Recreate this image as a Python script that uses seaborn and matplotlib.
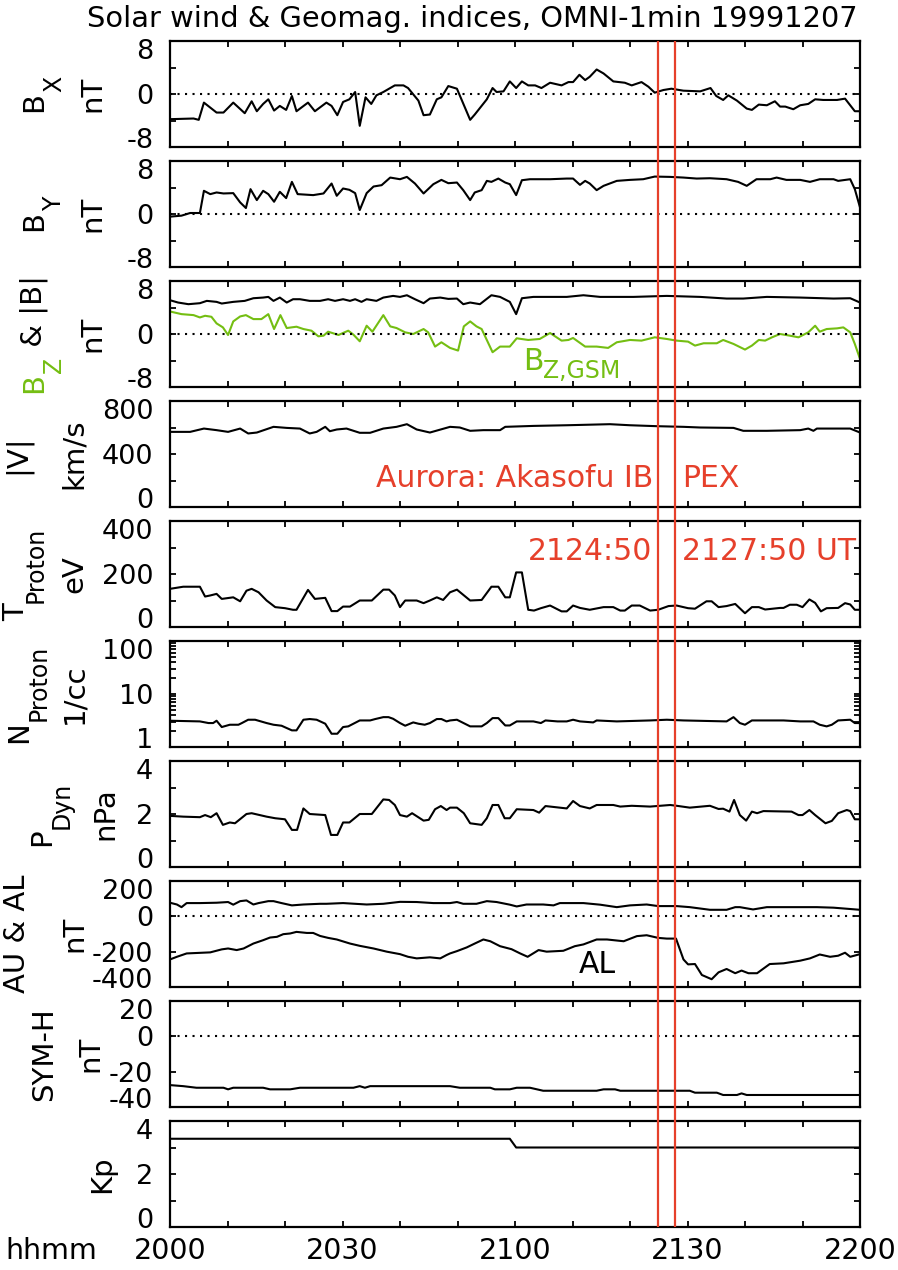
import numpy as np
import pandas as pd
import seaborn as sns
import matplotlib.pyplot as plt
from matplotlib.ticker import NullFormatter
from matplotlib.transforms import ScaledTranslation

sns.set_style('ticks')
plt.rcParams['font.family'] = ['DejaVu Sans']
plt.rcParams['text.color'] = 'black'
plt.rcParams['axes.unicode_minus'] = False

# ---- data (minutes after 20:00 UT) ----
bx_t = [0, 4.1, 5.0, 5.9, 8.1, 9.3, 11.0, 13.0, 14.2, 15.1, 16.2, 17.1, 18.1, 19.1, 20.2, 21.2, 22.0, 24.0, 25.2, 27.2,
        28.1, 29.1, 30.1, 31.2, 32.2, 33.0, 34.0, 35.0, 35.9, 37.1, 39.1, 40.6, 41.4, 43.2, 44.1, 45.2, 46.4, 47.2, 48.4, 49.9,
        52.2, 53.0, 55.1, 56.1, 56.8, 58.0, 59.1, 60.2, 61.2, 62.3, 63.5, 64.6, 66.1, 68.1, 69.3, 70.1, 71.2, 72.2, 73.0, 74.2,
        75.4, 77.1, 79.1, 80.3, 82.0, 83.2, 84.3, 85.8, 87.2, 89.3, 92.2, 94.0, 95.0, 96.2, 97.1, 98.6, 100.3, 101.2, 102.4, 103.8,
        105.2, 106.1, 107.0, 108.4, 109.6, 111.0, 112.2, 113.6, 116.0, 117.4, 119.1, 120]
bx_v = [-3.8, -3.7, -3.9, -1.3, -2.8, -2.8, -1.3, -2.9, -1.1, -2.6, -1.5, -0.8, -2.5, -1.8, -2.4, -0.3, -2.6, -1.3, -2.6, -1.3,
        -1.8, -3.2, -1.2, -0.8, 0.3, -4.8, -0.5, -1.5, -0.2, 0.3, 1.3, 1.3, 0.9, -1.0, -3.2, -3.1, -0.8, -0.5, 1.2, 0.8,
        -3.9, -3.1, -0.8, 0.9, 0.3, 0.4, 1.9, 0.9, 1.9, 1.3, 1.3, 0.9, 1.7, 1.3, 1.8, 1.8, 2.9, 2.1, 2.6, 3.7,
        3.1, 1.9, 1.7, 1.3, 1.8, 1.1, 0.2, 0.6, 0.8, 0.5, 0.4, 0.9, -0.3, -0.9, -0.2, -1.0, -2.2, -2.4, -1.6, -1.7,
        -1.1, -1.9, -1.9, -2.3, -1.7, -1.5, -0.8, -0.9, -0.9, -0.7, -2.6, -2.6]

by_t = [0, 2.0, 3.5, 5.2, 5.9, 7.0, 8.1, 9.3, 11.0, 12.2, 13.2, 14.0, 15.1, 16.2, 17.1, 18.1, 19.1, 20.2, 21.2, 22.2,
        24.9, 26.7, 28.1, 29.0, 30.1, 31.2, 32.2, 33.0, 34.2, 35.4, 36.8, 38.3, 40.0, 41.2, 42.6, 44.1, 45.8, 47.2, 48.4, 49.9,
        51.0, 52.2, 53.0, 54.2, 55.1, 55.9, 57.1, 58.3, 59.1, 60.2, 61.2, 62.6, 66.1, 69.0, 70.1, 71.3, 72.2, 73.0, 74.2, 75.4,
        77.7, 80.0, 82.3, 84.3, 87.0, 89.3, 91.6, 93.9, 96.8, 98.8, 100.3, 102.0, 104.4, 105.5, 107.2, 109.6, 111.3, 113.0, 115.4, 116.2,
        118.3, 119.1, 120]
by_v = [-0.4, -0.25, 0.15, 0.15, 3.5, 3.0, 3.25, 3.1, 3.15, 1.75, 0.9, 3.75, 2.1, 3.5, 3.0, 1.85, 3.35, 2.4, 4.85, 3.0,
        2.85, 3.1, 4.6, 2.75, 3.85, 3.65, 3.15, 0.6, 3.15, 4.15, 4.35, 5.5, 5.25, 5.6, 4.6, 3.1, 4.5, 5.15, 4.65, 4.75,
        3.6, 2.1, 3.25, 3.6, 5.0, 4.85, 5.35, 4.75, 4.5, 2.85, 5.1, 5.25, 5.25, 5.35, 5.35, 4.4, 5.0, 4.6, 3.6, 4.25,
        5.0, 5.15, 5.25, 5.65, 5.6, 5.5, 5.35, 5.4, 5.25, 4.85, 4.25, 5.25, 5.25, 5.5, 5.15, 5.15, 4.85, 5.25, 5.25, 5.0,
        5.25, 3.75, 1.0]

bt_t = [0, 1.4, 3.2, 5.2, 6.4, 8.1, 9.0, 11.0, 13.0, 14.5, 16.2, 17.1, 18.0, 19.1, 20.3, 21.4, 22.6, 24.3, 26.1, 27.5,
        28.7, 30.1, 31.3, 32.2, 33.3, 34.2, 35.9, 37.1, 38.8, 40.0, 41.2, 42.6, 44.1, 45.2, 47.0, 48.4, 49.9, 51.0, 52.2, 53.9,
        55.9, 57.4, 59.1, 60.2, 61.2, 63.2, 69.0, 71.9, 74.8, 80.6, 86.4, 92.2, 96.8, 99.7, 103.8, 109.6, 115.4, 118.3, 120]
bt_v = [5.1, 4.75, 4.5, 4.65, 5.0, 4.85, 4.6, 4.85, 5.0, 5.4, 5.5, 5.6, 5.0, 5.5, 4.75, 5.25, 5.25, 5.0, 5.0, 5.25,
        5.0, 5.25, 5.0, 5.25, 4.85, 5.25, 5.0, 5.5, 5.75, 5.6, 5.85, 5.25, 4.65, 5.35, 5.5, 5.3, 5.35, 4.5, 4.75, 4.5,
        5.85, 5.6, 4.85, 3.0, 5.4, 5.6, 5.6, 5.85, 5.6, 5.6, 5.75, 5.6, 5.35, 5.35, 5.6, 5.5, 5.35, 5.4, 4.75]

bz_t = [0, 2.0, 4.1, 5.2, 6.1, 7.2, 8.1, 9.2, 10.1, 11.0, 12.2, 13.2, 14.5, 15.9, 17.1, 18.1, 19.2, 20.3, 22.0, 23.2,
        24.6, 25.8, 26.7, 27.5, 29.3, 31.0, 31.9, 33.0, 34.2, 35.2, 37.1, 38.3, 39.4, 40.9, 42.3, 44.1, 44.9, 46.1, 47.2, 48.7,
        50.1, 51.1, 52.2, 53.3, 54.2, 56.1, 57.4, 59.1, 60.3, 62.3, 64.3, 66.1, 68.1, 69.3, 70.1, 72.2, 74.2, 76.2, 77.7, 80.0,
        82.0, 84.3, 86.4, 88.1, 90.1, 91.3, 92.8, 95.1, 96.2, 98.0, 100.0, 101.2, 102.4, 103.5, 104.7, 106.1, 107.8, 109.3, 111.0, 112.2,
        113.0, 114.2, 116.0, 117.1, 118.3, 119.1, 120]
bz_v = [3.4, 3.0, 2.85, 2.5, 2.75, 2.6, 1.6, 1.0, -0.15, 1.9, 2.65, 2.85, 2.25, 2.25, 3.0, 0.75, 2.85, 0.9, 1.1, 0.75,
        0.5, -0.35, -0.25, 0.35, -0.15, 0.5, -0.1, -1.1, 1.25, 0.35, 2.85, 1.15, 0.9, 0.25, 0.0, 0.75, 0.25, -1.9, -1.25, -2.1,
        -2.5, 1.15, 1.9, 1.15, 0.75, -2.75, -1.9, -1.9, -0.65, -0.9, -0.75, 0.15, -1.0, -0.9, -0.6, -1.9, -1.9, -2.1, -1.25, -0.9,
        -1.0, -0.5, -0.75, -1.0, -1.15, -1.75, -1.4, -1.4, -0.9, -1.5, -2.35, -1.75, -0.9, -1.0, -0.5, 0.0, -0.25, -0.5, 0.25, 1.25,
        0.35, 0.75, 0.85, 1.0, 0.25, -1.5, -3.75]

v_t = [0, 3.5, 5.9, 8.1, 10.1, 12.2, 13.6, 15.1, 18.0, 20.3, 22.6, 24.3, 25.5, 27.0, 27.8, 29.0, 30.7, 33.0, 34.8, 37.1,
       39.4, 41.2, 42.9, 45.2, 48.7, 50.4, 52.2, 54.5, 57.4, 58.3, 63.2, 69.0, 76.5, 80.0, 84.6, 89.3, 92.2, 98.0, 99.7, 103.8,
       109.6, 111.0, 111.9, 112.5, 115.4, 118.3, 120]
v_v = [567, 567, 592, 580, 567, 592, 555, 562, 605, 597, 592, 555, 567, 605, 572, 585, 592, 560, 560, 592,
       605, 625, 585, 562, 605, 600, 575, 580, 580, 605, 612, 617, 625, 617, 610, 605, 600, 597, 575, 575,
       580, 592, 575, 592, 592, 592, 562]

tp_t = [0, 2.3, 5.2, 6.1, 7.0, 8.1, 9.0, 11.0, 12.2, 13.3, 14.2, 15.4, 16.8, 18.3, 20.0, 21.4, 22.0, 24.0, 25.2, 27.0,
        28.1, 29.1, 30.1, 31.3, 33.0, 35.1, 37.1, 38.1, 39.1, 40.0, 40.9, 42.9, 44.1, 45.2, 46.4, 47.5, 48.7, 49.9, 52.2, 54.2,
        55.9, 57.1, 58.3, 59.1, 60.2, 61.2, 62.3, 63.3, 64.5, 66.1, 68.1, 69.0, 70.1, 71.3, 73.0, 75.4, 77.1, 78.3, 79.1, 80.3,
        81.7, 83.5, 84.9, 86.7, 88.1, 90.1, 91.3, 93.3, 94.2, 95.4, 96.8, 98.3, 100.0, 101.2, 102.4, 103.5, 106.1, 106.7, 107.8, 109.0,
        110.0, 111.2, 112.2, 113.2, 114.2, 116.2, 117.4, 118.3, 119.1, 120]
tp_v = [144, 152, 152, 115, 119, 125, 106, 112, 97, 137, 144, 131, 100, 75, 71, 65, 65, 140, 106, 110,
        60, 60, 77, 77, 100, 100, 141, 141, 119, 75, 100, 100, 90, 100, 112, 102, 131, 141, 100, 102,
        152, 152, 112, 112, 206, 206, 65, 62, 71, 81, 59, 59, 81, 72, 65, 75, 75, 62, 62, 81,
        81, 62, 65, 79, 81, 71, 69, 97, 97, 75, 79, 87, 52, 75, 75, 66, 72, 72, 84, 84,
        75, 104, 91, 59, 71, 72, 90, 85, 65, 65]

np_t = [0, 5.2, 6.7, 7.5, 8.1, 9.0, 10.4, 11.9, 12.5, 13.6, 14.8, 16.8, 18.0, 19.4, 21.2, 22.0, 23.2, 24.3, 25.5, 27.0,
        28.1, 29.1, 30.1, 31.0, 33.0, 34.8, 35.7, 37.1, 38.0, 38.8, 40.0, 40.9, 42.3, 43.2, 44.3, 45.2, 46.4, 47.2, 48.1, 48.7,
        49.9, 52.2, 54.2, 55.1, 56.1, 57.1, 58.3, 59.1, 60.3, 63.2, 64.5, 65.3, 67.4, 69.0, 70.1, 71.3, 73.6, 74.2, 77.7, 83.5,
        86.4, 89.3, 96.8, 98.0, 99.1, 100.0, 101.2, 106.7, 109.6, 111.9, 113.0, 114.2, 115.1, 116.2, 118.3, 119.1, 120]
np_v = [3.13, 3.04, 2.83, 2.83, 3.13, 2.38, 2.63, 2.63, 2.83, 3.27, 3.27, 2.83, 2.63, 2.52, 2.06, 2.06, 3.27, 3.37, 3.27, 2.75,
        1.78, 1.78, 2.38, 2.45, 3.17, 3.17, 3.37, 3.66, 3.66, 3.41, 2.83, 2.52, 2.91, 2.75, 2.63, 2.83, 3.37, 3.37, 3.04, 3.17,
        3.27, 2.45, 2.45, 2.83, 3.51, 3.51, 2.55, 2.55, 3.04, 3.04, 2.83, 3.17, 3.04, 3.04, 3.27, 3.04, 2.91, 3.17, 3.04, 3.17,
        3.27, 3.17, 3.04, 3.66, 2.83, 2.63, 3.17, 3.17, 3.04, 3.04, 2.63, 2.45, 2.63, 3.17, 3.27, 2.83, 2.83]

pd_t = [0, 2.3, 5.2, 6.1, 7.1, 8.1, 9.2, 10.4, 11.3, 13.3, 14.2, 16.8, 18.3, 20.0, 21.2, 22.1, 23.2, 24.3, 27.0, 28.0,
        29.1, 30.1, 31.2, 33.0, 35.1, 37.1, 38.1, 39.1, 40.0, 41.2, 42.1, 44.1, 45.0, 46.1, 47.1, 48.1, 48.7, 49.9, 51.1, 52.2,
        54.2, 55.1, 56.1, 57.1, 58.2, 59.1, 60.3, 63.2, 64.2, 65.3, 69.0, 70.1, 71.3, 73.0, 74.2, 77.1, 78.3, 80.3, 83.5, 87.0,
        88.1, 90.4, 93.9, 95.4, 96.2, 97.3, 98.1, 99.1, 100.2, 101.2, 102.1, 103.2, 108.1, 109.3, 110.0, 111.2, 112.2, 114.0, 115.1, 116.2,
        117.7, 118.3, 119.1, 120]
pd_v = [1.93, 1.9, 1.88, 1.96, 1.88, 2.03, 1.59, 1.68, 1.65, 2.0, 2.03, 1.9, 1.84, 1.8, 1.4, 1.4, 2.21, 2.0, 1.96, 1.21,
        1.21, 1.68, 1.68, 2.0, 2.0, 2.55, 2.53, 2.34, 1.96, 1.9, 2.03, 1.75, 1.78, 2.18, 2.3, 2.15, 2.24, 2.24, 2.03, 1.65,
        1.59, 1.84, 2.34, 2.34, 1.84, 1.84, 2.18, 2.15, 2.05, 2.3, 2.21, 2.49, 2.3, 2.21, 2.34, 2.34, 2.28, 2.31, 2.28, 2.34,
        2.31, 2.24, 2.31, 2.19, 2.2, 2.09, 2.53, 1.96, 1.75, 2.09, 2.03, 2.11, 2.09, 1.96, 1.96, 2.15, 1.96, 1.65, 1.74, 2.03,
        2.15, 2.11, 1.8, 1.8]

au_t = [0, 1.2, 2.0, 2.9, 5.2, 8.1, 10.1, 11.0, 12.2, 13.3, 14.5, 15.4, 17.1, 18.0, 19.4, 21.2, 23.2, 26.1, 27.2, 30.1,
        34.2, 37.1, 40.0, 42.9, 45.8, 48.7, 49.9, 51.0, 53.3, 55.1, 56.8, 59.1, 60.3, 62.0, 64.9, 66.7, 67.8, 71.9, 74.8, 77.7,
        80.0, 82.9, 84.9, 88.1, 90.4, 93.9, 96.8, 98.3, 99.1, 101.4, 103.8, 106.7, 112.5, 115.4, 120]
au_v = [77, 67, 52, 75, 75, 77, 81, 66, 86, 90, 67, 75, 86, 86, 75, 62, 67, 71, 71, 75,
        67, 71, 82, 81, 75, 75, 81, 71, 71, 86, 81, 66, 56, 67, 67, 62, 75, 75, 66, 52,
        62, 67, 58, 58, 52, 37, 37, 52, 52, 39, 52, 52, 52, 49, 37]

al_t = [0, 1.2, 2.9, 7.0, 9.0, 10.1, 11.6, 12.8, 14.5, 16.2, 17.4, 18.6, 19.7, 20.9, 22.0, 23.8, 24.9, 26.1, 27.5, 29.0,
        31.3, 33.0, 35.4, 37.7, 40.0, 41.4, 42.9, 45.2, 47.0, 48.1, 48.7, 49.9, 51.6, 53.0, 54.5, 55.7, 57.4, 59.4, 60.9, 62.2,
        64.1, 65.5, 68.4, 70.4, 71.9, 74.2, 76.0, 78.9, 81.2, 82.9, 84.9, 86.4, 88.0, 89.3, 90.1, 91.3, 92.5, 94.2, 95.4, 96.8,
        98.3, 99.4, 100.6, 102.1, 104.3, 106.7, 109.6, 111.3, 113.0, 114.8, 116.2, 117.4, 118.3, 120]
al_v = [-244, -229, -210, -204, -187, -182, -191, -182, -154, -135, -120, -116, -101, -97, -88, -94, -94, -111, -122, -131,
        -154, -167, -182, -200, -214, -229, -238, -232, -238, -219, -210, -197, -176, -154, -131, -141, -169, -186, -210, -229,
        -191, -200, -195, -169, -159, -131, -131, -141, -112, -107, -122, -126, -126, -244, -272, -270, -332, -356, -317, -298,
        -322, -307, -322, -322, -270, -266, -251, -238, -216, -229, -223, -206, -229, -214]

sy_t = [0, 2.3, 4.6, 9.3, 10.1, 11.0, 16.2, 17.4, 20.9, 22.6, 31.9, 33.0, 33.9, 34.8, 48.7, 50.4, 55.7, 56.5, 59.1, 60.3,
        62.6, 64.9, 74.2, 75.4, 77.4, 78.3, 90.4, 91.3, 95.1, 96.2, 98.6, 99.4, 100.3, 120]
sy_v = [-27.6, -28.2, -29.1, -29.1, -30.0, -29.1, -29.1, -30.0, -30.0, -29.1, -29.1, -28.2, -29.1, -28.2, -28.2, -29.1, -29.1, -30.0, -30.0, -29.1,
        -29.1, -30.8, -30.8, -30.0, -30.0, -30.8, -30.8, -31.9, -31.9, -33.2, -33.2, -32.3, -33.2, -33.2]

kp_t = [0, 59.1, 60.2, 120]
kp_v = [3.33, 3.33, 3.0, 3.0]

# aurora event times (minutes after 20:00): 2124:50 and 2127:50
aurora_min = [84 + 50 / 60, 87 + 50 / 60]

hhmm_min = [0, 30, 60, 90, 120]
hhmm_labels = ['2000', '2030', '2100', '2130', '2200']

b_ticks, b_labels = [-8, 0, 8], ['-8', '0', '8']
v_ticks, v_labels = [0, 400, 800], ['0', '400', '800']
tp_ticks, tp_labels = [0, 200, 400], ['0', '200', '400']
np_ticks, np_labels = [1, 10, 100], ['1', '10', '100']
pd_ticks, pd_labels = [0, 2, 4], ['0', '2', '4']
ae_ticks, ae_labels = [-400, -200, 0, 200], ['-400', '-200', '0', '200']
sy_ticks, sy_labels = [-40, -20, 0, 20], ['-40', '-20', '0', '20']
kp_ticks, kp_labels = [0, 2, 4], ['0', '2', '4']

# ---- layout (pixels of the 898x1270 canvas) ----
W, H = 898, 1270
AX_L, AX_R = 170, 860
TOP0, PITCH, PH = 41, 120, 106
GREEN, RED = '#74be12', '#e6402b'
TICK_FS, XTICK_FS, LABEL_FS, SUB_FS, ANN_FS = 19.5, 20.5, 21, 17, 21.5

fig = plt.figure(figsize=(W / 100, H / 100), dpi=100)
renderer = fig.canvas.get_renderer()

panels = [
    dict(series=[(bx_t, bx_v, 'k')], lim=(-8, 8), ticks=(b_ticks, b_labels), minor=[-4, 4], zero=True),
    dict(series=[(by_t, by_v, 'k')], lim=(-8, 8), ticks=(b_ticks, b_labels), minor=[-4, 4], zero=True),
    dict(series=[(bt_t, bt_v, 'k'), (bz_t, bz_v, GREEN)], lim=(-8, 8), ticks=(b_ticks, b_labels), minor=[-4, 4], zero=True),
    dict(series=[(v_t, v_v, 'k')], lim=(0, 800), ticks=(v_ticks, v_labels), minor=[200, 600], zero=False),
    dict(series=[(tp_t, tp_v, 'k')], lim=(0, 400), ticks=(tp_ticks, tp_labels), minor=[100, 300], zero=False),
    dict(series=[(np_t, np_v, 'k')], lim=(1, 100), ticks=(np_ticks, np_labels), minor=None, zero=False, log=True),
    dict(series=[(pd_t, pd_v, 'k')], lim=(0, 4), ticks=(pd_ticks, pd_labels), minor=[1, 3], zero=False),
    dict(series=[(au_t, au_v, 'k'), (al_t, al_v, 'k')], lim=(-400, 200), ticks=(ae_ticks, ae_labels), minor=[], zero=True),
    dict(series=[(sy_t, sy_v, 'k')], lim=(-40, 20), ticks=(sy_ticks, sy_labels), minor=[], zero=True),
    dict(series=[(kp_t, kp_v, 'k')], lim=(0, 4), ticks=(kp_ticks, kp_labels), minor=[1, 3], zero=False),
]

axes = []
for i, p in enumerate(panels):
    top = TOP0 + PITCH * i
    ax = fig.add_axes([AX_L / W, 1 - (top + PH) / H, (AX_R - AX_L) / W, PH / H])
    if p.get('log'):
        ax.set_yscale('log')
        ax.yaxis.set_minor_formatter(NullFormatter())
    for t, v, c in p['series']:
        sns.lineplot(x=t, y=v, ax=ax, color=c, linewidth=1.5, estimator=None, sort=False)
    if p['zero']:
        ax.axhline(0, color='k', lw=1.5, linestyle=(0, (1, 2.6)))
    ax.set_xlim(0, 120)
    ax.set_ylim(*p['lim'])
    ax.set_yticks(p['ticks'][0], p['ticks'][1])
    if p['minor'] is not None:
        ax.set_yticks(p['minor'], minor=True)
    ax.set_xticks(hhmm_min)
    ax.set_xticks(range(0, 121, 10), minor=True)
    if i == len(panels) - 1:
        ax.set_xticklabels(hhmm_labels)
    else:
        ax.tick_params(labelbottom=False)
    ax.set_xlabel('')
    ax.set_ylabel('')
    ax.tick_params(which='both', direction='in', top=True, right=True, length=4.5, width=1.3, colors='k')
    ax.tick_params(axis='y', labelsize=TICK_FS, pad=12)
    ax.tick_params(axis='x', labelsize=XTICK_FS, pad=7)
    for sp in ax.spines.values():
        sp.set_linewidth(1.6)
        sp.set_color('k')
    axes.append(ax)

# keep the extreme y tick labels inside the panel, as in the original
up = ScaledTranslation(0, 1.5 / 72, fig.dpi_scale_trans)
down = ScaledTranslation(0, -1.0 / 72, fig.dpi_scale_trans)
for ax in axes:
    yt = ax.yaxis.get_major_ticks()
    yt[0].label1.set_verticalalignment('baseline')
    yt[0].label1.set_transform(yt[0].label1.get_transform() + down)
    yt[-1].label1.set_verticalalignment('top')
    yt[-1].label1.set_transform(yt[-1].label1.get_transform() + up)


def compose(x, y, parts, rotation=0, center=False):
    """Write text pieces one after another; parts = (text, size, baseline drop in px, colour).
    x, y are canvas pixels (y from the top) of the start (or centre) on the first baseline."""
    texts, lengths = [], []
    for s, size, drop, c in parts:
        t = fig.text(0, 0, s, fontsize=size, color=c, rotation=rotation,
                     rotation_mode='anchor', ha='left', va='baseline')
        bb = t.get_window_extent(renderer)
        lengths.append(bb.height if rotation == 90 else bb.width)
        texts.append(t)
    pos = -sum(lengths) / 2 if center else 0
    X0, Y0 = x, H - y
    for t, (s, size, drop, c), L in zip(texts, parts, lengths):
        if rotation == 90:
            px, py = X0 + drop, Y0 + pos
        else:
            px, py = X0 + pos, Y0 - drop
        t.set_position((px / W, py / H))
        pos += L
    return texts


SUB_DROP = 19
# y labels: outer line (pieces) at its baseline x, inner line at its baseline x
ylabels = [
    ([('B', LABEL_FS, 0, 'k'), ('X', SUB_FS, SUB_DROP, 'k')], 42, 'nT', 100),
    ([('B', LABEL_FS, 0, 'k'), ('Y', SUB_FS, SUB_DROP, 'k')], 42, 'nT', 100),
    ([('B', LABEL_FS, 0, GREEN), ('Z', SUB_FS, SUB_DROP, GREEN), (' & |B|', LABEL_FS, 0, 'k')], 42, 'nT', 100),
    ([('|V|', LABEL_FS, 0, 'k')], 25, 'km/s', 82),
    ([('T', LABEL_FS, 0, 'k'), ('Proton', SUB_FS, SUB_DROP, 'k')], 24, 'eV', 82),
    ([('N', LABEL_FS, 0, 'k'), ('Proton', SUB_FS, SUB_DROP, 'k')], 27, '1/cc', 82),
    ([('P', LABEL_FS, 0, 'k'), ('Dyn', SUB_FS, SUB_DROP, 'k')], 50, 'nPa', 113),
    ([('AU & AL', LABEL_FS, 0, 'k')], 25, 'nT', 82),
    ([('SYM-H', LABEL_FS, 0, 'k')], 52, 'nT', 98),
    (None, None, 'Kp', 110),
]
for i, (outer, ox, inner, ix) in enumerate(ylabels):
    yc = TOP0 + PITCH * i + PH / 2
    compose(ix, yc, [(inner, LABEL_FS, 0, 'k')], rotation=90, center=True)
    if outer:
        compose(ox, yc, outer, rotation=90, center=True)

# annotations
compose(523, 370, [('B', ANN_FS, 0, GREEN), ('Z,GSM', 17, 8, GREEN)])
axes[3].text(84.0, 150, 'Aurora: Akasofu IB', color=RED, fontsize=ANN_FS, ha='right', va='baseline')
axes[3].text(89.0, 150, 'PEX', color=RED, fontsize=ANN_FS, ha='left', va='baseline')
axes[4].text(83.8, 253, '2124:50', color=RED, fontsize=ANN_FS, ha='right', va='baseline')
axes[4].text(89.0, 253, '2127:50 UT', color=RED, fontsize=ANN_FS, ha='left', va='baseline')
axes[7].text(71.1, -321, 'AL', color='k', fontsize=ANN_FS, va='baseline')

# red event lines across all panels
ov = fig.add_axes([AX_L / W, 1 - (TOP0 + 9 * PITCH + PH) / H, (AX_R - AX_L) / W, (9 * PITCH + PH) / H])
ov.set_xlim(0, 120)
ov.set_ylim(0, 1)
ov.axis('off')
for m in aurora_min:
    ov.axvline(m, color=RED, lw=1.6)

fig.text(858 / W, 1 - 27 / H, 'Solar wind & Geomag. indices, OMNI-1min 19991207',
         ha='right', va='baseline', fontsize=20.8)
fig.text(5 / W, 1 - 1237 / H, 'hhmm', ha='left', va='top', fontsize=XTICK_FS)

fig.savefig('out.png', dpi=100)
